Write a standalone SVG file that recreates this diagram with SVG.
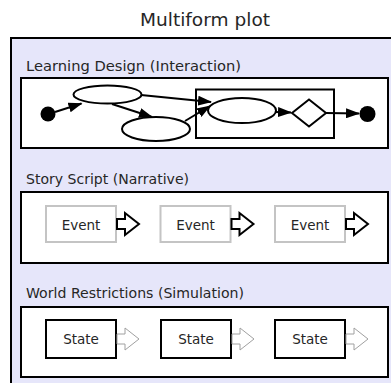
<svg xmlns="http://www.w3.org/2000/svg" width="391" height="383" viewBox="0 0 391 383">
<defs>
<style>
text{font-family:"DejaVu Sans","Liberation Sans",sans-serif;fill:#262626}
.title{font-size:18px}
.lbl{font-size:14px}
.nt{font-size:13.5px;text-anchor:middle}
.sec{fill:#fff;stroke:#000;stroke-width:2}
.ev{fill:#fff;stroke:#c4c4c4;stroke-width:2}
.st{fill:#fff;stroke:#000;stroke-width:2}
.evarr{fill:#fff;stroke:#000;stroke-width:2;stroke-linejoin:miter}
.starr{fill:#fff;stroke:#a0a0a0;stroke-width:1}
.sh{fill:#fff;stroke:#000;stroke-width:2}
.edge{fill:none;stroke:#000;stroke-width:2}
</style>
<marker id="ah" markerWidth="14" markerHeight="10" refX="13" refY="5" orient="auto" markerUnits="userSpaceOnUse"><path d="M0,0 L14,5 L0,10 z" fill="#000"/></marker>
<polygon id="blk" points="0,-5 8,-5 8,-11 22,0 8,11 8,5 0,5"/>
</defs>
<text class="title" x="140" y="26" textLength="130" lengthAdjust="spacingAndGlyphs">Multiform plot</text>
<rect x="11" y="38" width="400" height="400" fill="#e6e6fa" stroke="#000" stroke-width="2"/>

<g id="learning-design">
<text class="lbl" x="26" y="71" textLength="215" lengthAdjust="spacingAndGlyphs">Learning Design (Interaction)</text>
<rect class="sec" x="21" y="78" width="367" height="70"/>
<rect class="sh" x="196" y="89.5" width="138" height="48.5"/>
</g>
<g id="start"><circle cx="48" cy="114" r="7.5" fill="#000"/></g>
<g id="activity-a"><ellipse class="sh" cx="107.5" cy="94.5" rx="34" ry="9"/></g>
<g id="activity-b"><ellipse class="sh" cx="156" cy="129" rx="34" ry="12"/></g>
<g id="activity-c"><ellipse class="sh" cx="242" cy="110.5" rx="34" ry="12.5"/></g>
<g id="decision"><polygon class="sh" points="309,99.5 326,113 309,126.5 292,113"/></g>
<g id="end"><circle cx="367.5" cy="114" r="8" fill="#000"/></g>

<g id="edges">
<line class="edge" x1="55" y1="112" x2="81.5" y2="103.5" marker-end="url(#ah)"/>
<line class="edge" x1="141" y1="95" x2="211" y2="102" marker-end="url(#ah)"/>
<line class="edge" x1="112" y1="104" x2="152" y2="117" marker-end="url(#ah)"/>
<line class="edge" x1="185" y1="121" x2="210" y2="106" marker-end="url(#ah)"/>
<line class="edge" x1="275" y1="112" x2="291" y2="112.5" marker-end="url(#ah)"/>
<line class="edge" x1="326" y1="113" x2="359" y2="113.5" marker-end="url(#ah)"/>
</g>

<g id="story-script">
<text class="lbl" x="26" y="184" textLength="163" lengthAdjust="spacingAndGlyphs">Story Script (Narrative)</text>
<rect class="sec" x="21" y="192" width="367" height="71"/>
</g>
<g id="event-1"><rect class="ev" x="46" y="206" width="70" height="36"/><text class="nt" x="81" y="229.5">Event</text></g>
<g id="event-2"><rect class="ev" x="160.5" y="206" width="70" height="36"/><text class="nt" x="195.5" y="229.5">Event</text></g>
<g id="event-3"><rect class="ev" x="275" y="206" width="70" height="36"/><text class="nt" x="310" y="229.5">Event</text></g>
<g id="event-arrows">
<use href="#blk" class="evarr" x="117" y="224"/>
<use href="#blk" class="evarr" x="231.5" y="224"/>
<use href="#blk" class="evarr" x="346" y="224"/>
</g>

<g id="world-restrictions">
<text class="lbl" x="26" y="298" textLength="218" lengthAdjust="spacingAndGlyphs">World Restrictions (Simulation)</text>
<rect class="sec" x="21" y="307" width="367" height="70"/>
</g>
<g id="state-1"><rect class="st" x="46" y="320" width="70" height="38"/><text class="nt" x="81" y="344">State</text></g>
<g id="state-2"><rect class="st" x="161" y="320" width="70" height="38"/><text class="nt" x="196" y="344">State</text></g>
<g id="state-3"><rect class="st" x="275" y="320" width="70" height="38"/><text class="nt" x="310" y="344">State</text></g>
<g id="state-arrows">
<use href="#blk" class="starr" x="117" y="339"/>
<use href="#blk" class="starr" x="232" y="339"/>
<use href="#blk" class="starr" x="346" y="339"/>
</g>
</svg>
